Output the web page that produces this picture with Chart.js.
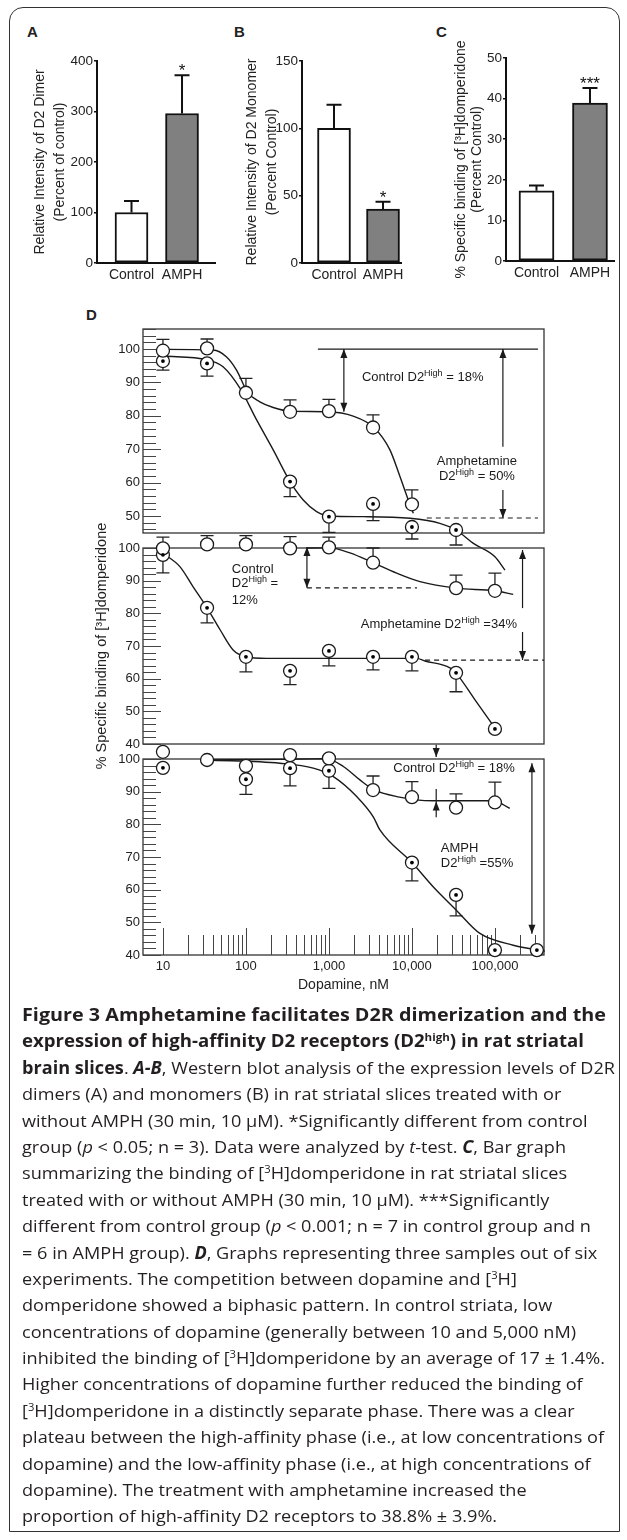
<!DOCTYPE html>
<html><head><meta charset="utf-8">
<script src="https://cdn.jsdelivr.net/npm/chart.js@4.4.1/dist/chart.umd.min.js"></script>
<style>
html,body{margin:0;padding:0;background:#fff;}
#page{position:relative;width:627px;height:1540px;overflow:hidden;background:#fff;}
#frame{position:absolute;left:9px;top:7px;width:611px;height:1525px;border:1.5px solid #333;border-radius:14px 14px 0 0;box-sizing:border-box;}
canvas{position:absolute;}
.plabel{position:absolute;font:bold 15px "Liberation Sans",Arial,sans-serif;color:#222;line-height:18px;}
#caption{position:absolute;left:22px;top:1002px;font-family:"Open Sans",sans-serif;font-size:17px;line-height:26.4px;color:#231f20;}
#caption div{white-space:nowrap;transform-origin:0 50%;height:26.4px;}
#caption sup{font-size:0.62em;line-height:0;vertical-align:0.55em;}
</style>
</head><body>
<div id="page">
  <div id="frame"></div>
  <div class="plabel" style="left:27px;top:23px">A</div>
  <div class="plabel" style="left:234px;top:23px">B</div>
  <div class="plabel" style="left:436px;top:23px">C</div>
  <div class="plabel" style="left:86px;top:306px">D</div>
  <canvas id="cA" width="230" height="300" style="left:0;top:0"></canvas>
  <canvas id="cB" width="220" height="300" style="left:200px;top:0"></canvas>
  <canvas id="cC" width="217" height="300" style="left:410px;top:0"></canvas>
  <canvas id="d1" width="627" height="300" style="left:0;top:300px"></canvas>
  <canvas id="d2" width="627" height="300" style="left:0;top:500px"></canvas>
  <canvas id="d3" width="627" height="290" style="left:0;top:720px"></canvas>
  <div id="caption"></div>
</div>
<script>
// ---------------- DATA ----------------
const barCats = ['Control', 'AMPH'];
const dimerVals = [100, 296];
const dimerErr = [23, 76];
const dimerMarks = ['', '*'];
const monomerVals = [100, 40];
const monomerErr = [17.5, 5.5];
const monomerMarks = ['', '*'];
const bindingVals = [17.3, 38.9];
const bindingErr = [1.3, 3.7];
const bindingMarks = ['', '***'];

const doses = [10, 34, 100, 340, 1000, 3400, 10000, 34000, 100000, 320000];

const p1Control    = [99.5, 100.2, 86.9, 81.2, 81.4, 76.5, 53.5, null, null, null];
const p1ControlErr = [3.4, 2.8, 4.3, 3.6, 3.5, 3.8, 4.3, null, null, null];
const p1Amph       = [96.4, 95.7, null, 60.3, 49.8, 53.6, 46.7, 45.8, 37.8, null];
const p1AmphErr    = [2.7, 3.8, null, 4.5, 4.7, 5.0, 3.6, 4.5, null, null];

const p2Control    = [99.9, 101.1, 101.1, 99.9, 100.2, 95.5, null, 87.7, 86.9, null];
const p2ControlErr = [3.4, 2.7, 2.7, 3.6, 3.1, 4.5, null, 4.0, 5.4, null];
const p2Amph       = [97.9, 81.7, 66.7, 62.4, 68.5, 66.7, 66.7, 61.8, 44.6, null];
const p2AmphErr    = [5.5, 4.6, 4.6, 4.2, 4.6, 4.0, 4.3, 5.8, null, null];

const p3Control    = [102.2, 99.7, 97.9, 101.2, 100.2, 90.5, 88.3, 85.1, 86.7, null];
const p3ControlErr = [null, null, null, null, null, 4.3, 4.8, 4.2, 6.2, null];
const p3Amph       = [97.3, 103.6, 93.8, 97.2, 96.4, null, 68.3, 58.4, 41.5, 41.5];
const p3AmphErr    = [null, null, 4.6, 5.4, 5.4, null, 5.6, 6.4, null, null];

// fitted curves
const p1CtrlCurveX = [10, 40, 58, 77, 105, 147, 213, 340, 960, 1960, 3480, 5430, 7170, 9030, 10400];
const p1CtrlCurveY = [99.9, 99.7, 97.7, 93.7, 87.0, 84.2, 82.5, 81.4, 81.2, 79.9, 76.5, 69.8, 61.8, 54.8, 50.8];
const p1AmphCurveX = [10, 34, 53, 85, 135, 213, 340, 490, 710, 1000, 2600, 9500, 21700, 34000, 55000, 100000, 132000];
const p1AmphCurveY = [97.9, 96.8, 94.7, 88.2, 78.7, 69.8, 60.3, 54.8, 51.3, 50.0, 49.8, 49.3, 47.8, 45.8, 41.8, 37.8, 33.8];

const p2CtrlCurveX = [540, 1000, 1790, 3400, 6540, 12500, 34000, 100000, 166000];
const p2CtrlCurveY = [100, 100.1, 98.5, 95.5, 92.3, 89.7, 87.7, 86.9, 85.8];
const p2AmphCurveX = [10, 16, 23, 34, 49, 70, 100, 177, 11400, 14400, 28700, 34000, 57500, 100000];
const p2AmphCurveY = [98.4, 94.3, 88.2, 81.7, 74.9, 68.8, 66.7, 66.2, 66.2, 65.4, 63.3, 61.7, 53.5, 44.9];

const p3CtrlCurveX = [34, 257, 937, 1490, 2360, 3420, 6540, 18000, 95500, 151000];
const p3CtrlCurveY = [99.7, 99.9, 100.1, 97.7, 93.6, 90.7, 88.5, 87.2, 87.2, 84.9];
const p3AmphCurveX = [34, 257, 647, 1130, 2160, 3420, 4110, 10000, 18000, 34000, 65900, 166000, 400000];
const p3AmphCurveY = [99.7, 98.7, 97.2, 94.6, 88.5, 82.3, 78.3, 68.3, 60.9, 53.8, 46.6, 43.0, 41.2];

const p1YTicks = [50, 60, 70, 80, 90, 100];
const p2YTicks = [40, 50, 60, 70, 80, 90, 100];
const p3YTicks = [40, 50, 60, 70, 80, 90, 100];
const xDecades = [10, 100, 1000, 10000, 100000];
const xDecadeLabels = ['10', '100', '1,000', '10,000', '100,000'];
const xMinorMult = [2, 3, 4, 5, 6, 7, 8, 9];

// annotations in data units (dose, %)
const p1Notes = [
  {type:'line', x1:736, x2:330000, y1:100, y2:100},
  {type:'arrow', x:1513, y1:100, y2:81.2, both:true},
  {type:'text', x:2500, y:91.6, align:'left', parts:[['Control D2'],['High',1],[' = 18%']]},
  {type:'arrow', x:124700, y1:70.7, y2:100},
  {type:'arrow', x:124700, y1:57.8, y2:49.4},
  {type:'text', x:60700, y:66.2, align:'center', parts:[['Amphetamine']]},
  {type:'text', x:60700, y:61.7, align:'center', parts:[['D2'],['High',1],[' = 50%']]},
  {type:'line', x1:15100, x2:330000, y1:49.4, y2:49.4, dash:true}
];
const p2Notes = [
  {type:'text', x:67.5, y:93.3, align:'left', parts:[['Control']]},
  {type:'text', x:67.5, y:89.1, align:'left', parts:[['D2'],['High',1],[' =']]},
  {type:'text', x:67.5, y:84.1, align:'left', parts:[['12%']]},
  {type:'arrow', x:543, y1:87.8, y2:100.3, both:true},
  {type:'line', x1:543, x2:11500, y1:87.8, y2:87.8, dash:true},
  {type:'text', x:21100, y:76.7, align:'center', parts:[['Amphetamine D2'],['High',1],[' =34%']]},
  {type:'arrow', x:215000, y1:81.6, y2:99.4},
  {type:'arrow', x:215000, y1:74.3, y2:65.7},
  {type:'line', x1:14400, x2:390000, y1:65.7, y2:65.7, dash:true}
];
const p3Notes = [
  {type:'arrow', x:19600, y1:104.4, y2:100.6},
  {type:'arrow', x:19600, y1:82.2, y2:87.0},
  {type:'line', x1:19600, x2:19600, y1:87.0, y2:90.8},
  {type:'text', x:5960, y:97.1, align:'left', parts:[['Control D2'],['High',1],[' = 18%']]},
  {type:'arrow', x:279000, y1:98.7, y2:46.5, both:true},
  {type:'text', x:22300, y:72.5, align:'left', parts:[['AMPH']]},
  {type:'text', x:22300, y:67.9, align:'left', parts:[['D2'],['High',1],[' =55%']]}
];

const captionLines = [
 '<b>Figure 3 Amphetamine facilitates D2R dimerization and the</b>',
 '<b>expression of high-affinity D2 receptors (D2<sup>high</sup>) in rat striatal</b>',
 '<b>brain slices</b>. <b><i>A-B</i></b>, Western blot analysis of the expression levels of D2R',
 'dimers (A) and monomers (B) in rat striatal slices treated with or',
 'without AMPH (30 min, 10 μM). *Significantly different from control',
 'group (<i>p</i> &lt; 0.05; n = 3). Data were analyzed by <i>t</i>-test. <b><i>C</i></b>, Bar graph',
 'summarizing the binding of [<sup>3</sup>H]domperidone in rat striatal slices',
 'treated with or without AMPH (30 min, 10 μM). ***Significantly',
 'different from control group (<i>p</i> &lt; 0.001; n = 7 in control group and n',
 '= 6 in AMPH group). <b><i>D</i></b>, Graphs representing three samples out of six',
 'experiments. The competition between dopamine and [<sup>3</sup>H]',
 'domperidone showed a biphasic pattern. In control striata, low',
 'concentrations of dopamine (generally between 10 and 5,000 nM)',
 'inhibited the binding of [<sup>3</sup>H]domperidone by an average of 17 ± 1.4%.',
 'Higher concentrations of dopamine further reduced the binding of',
 '[<sup>3</sup>H]domperidone in a distinctly separate phase. There was a clear',
 'plateau between the high-affinity phase (i.e., at low concentrations of',
 'dopamine) and the low-affinity phase (i.e., at high concentrations of',
 'dopamine). The treatment with amphetamine increased the',
 'proportion of high-affinity D2 receptors to 38.8% ± 3.9%.'
];

// ---------------- SETUP ----------------
const FONT = '"Liberation Sans", Arial, Helvetica, sans-serif';
Chart.defaults.font.family = FONT;
Chart.defaults.color = '#222';
Chart.defaults.animation = false;
Chart.defaults.plugins.legend.display = false;
Chart.defaults.plugins.tooltip.enabled = false;

const barExtras = {
  id: 'barExtras',
  afterDatasetsDraw(chart) {
    const ds = chart.data.datasets[0];
    const meta = chart.getDatasetMeta(0);
    const y = chart.scales.y, ctx = chart.ctx;
    ctx.save();
    ctx.strokeStyle = '#111'; ctx.fillStyle = '#111'; ctx.lineWidth = 2;
    meta.data.forEach((el, i) => {
      const v = ds.data[i].y, e = ds.errs[i];
      const y0 = y.getPixelForValue(v), y1 = y.getPixelForValue(v + e);
      ctx.beginPath();
      ctx.moveTo(el.x, y0); ctx.lineTo(el.x, y1);
      ctx.moveTo(el.x - 7.5, y1); ctx.lineTo(el.x + 7.5, y1);
      ctx.stroke();
      if (ds.marks[i]) {
        ctx.font = '17px ' + FONT; ctx.textAlign = 'center'; ctx.textBaseline = 'alphabetic';
        ctx.fillText(ds.marks[i], el.x, y1 + 1);
      }
    });
    ctx.restore();
  }
};

function barChart(id, s) {
  return new Chart(document.getElementById(id), {
    type: 'bar',
    data: { datasets: [{
      data: barCats.map((c, i) => ({x: i + 1, y: s.vals[i]})),
      errs: s.errs, marks: s.marks,
      backgroundColor: ['#ffffff', '#808080'],
      borderColor: '#111', borderWidth: 2, borderSkipped: false,
      barThickness: s.barW
    }]},
    options: {
      responsive: false, animation: false,
      layout: { padding: { left: 0, right: s.padR, top: s.padT, bottom: s.padB } },
      scales: {
        x: {
          type: 'linear', min: s.xMin, max: s.xMax, offset: false,
          afterBuildTicks: sc => { sc.ticks = barCats.map((c, i) => ({value: i + 1})); },
          afterFit: sc => { sc.height = 30; },
          grid: { display: false, drawTicks: false, offset: false },
          border: { display: true, color: '#111', width: 2 },
          ticks: { callback: v => barCats[Math.round(v) - 1] || '', autoSkip: false, maxRotation: 0,
                   font: { size: 14 }, color: '#222', padding: 4 }
        },
        y: {
          min: 0, max: s.yMax,
          afterBuildTicks: sc => { sc.ticks = s.yTicks.map(v => ({value: v})); },
          afterFit: sc => { sc.width = s.axisW; },
          grid: { drawOnChartArea: false, drawTicks: true, tickLength: 3, color: '#111', lineWidth: 1.5 },
          border: { display: true, color: '#111', width: 2 },
          ticks: { font: { size: 13.5 }, color: '#222', padding: 1 },
          title: { display: true, text: s.title, color: '#222',
                   font: { size: 14, lineHeight: s.titleLH }, padding: { top: s.titlePad, bottom: 0 } }
        }
      }
    },
    plugins: [barExtras]
  });
}

barChart('cA', { vals: dimerVals, errs: dimerErr, marks: dimerMarks, barW: 33,
  yMax: 400, yTicks: [0, 100, 200, 300, 400], axisW: 97, padR: 15, padT: 61, padB: 7,
  xMin: 0.317, xMax: 2.653, titlePad: 30, titleLH: 1.43,
  title: ['Relative Intensity of D2 Dimer', '(Percent of control)'] });
barChart('cB', { vals: monomerVals, errs: monomerErr, marks: monomerMarks, barW: 33,
  yMax: 150, yTicks: [0, 50, 100, 150], axisW: 102, padR: 19, padT: 61, padB: 7,
  xMin: 0.347, xMax: 2.367, titlePad: 42, titleLH: 1.43,
  title: ['Relative Intensity of D2 Monomer', '(Percent Control)'] });
barChart('cC', { vals: bindingVals, errs: bindingErr, marks: bindingMarks, barW: 35,
  yMax: 50, yTicks: [0, 10, 20, 30, 40, 50], axisW: 96, padR: 13, padT: 58, padB: 9,
  xMin: 0.43, xMax: 2.449, titlePad: 43, titleLH: 1.15,
  title: ['% Specific binding of [³H]domperidone', '(Percent Control)'] });

// ------------- panel D -------------
function framePlugin(xTicks) {
  return {
    id: 'dFrame',
    beforeDatasetsDraw(chart) {
      const {ctx, chartArea: a, scales: {x, y}} = chart;
      ctx.save();
      ctx.strokeStyle = '#333'; ctx.lineWidth = 1.3;
      ctx.strokeRect(a.left, a.top, a.right - a.left, a.bottom - a.top);
      ctx.lineWidth = 1; ctx.strokeStyle = '#444';
      ctx.beginPath();
      for (let v = Math.ceil(y.min / 2) * 2; v <= y.max + 0.001; v += 2) {
        const py = Math.round(y.getPixelForValue(v)) + 0.5;
        const len = (v % 10 === 0) ? 18 : 13;
        ctx.moveTo(a.left, py); ctx.lineTo(a.left + len, py);
      }
      if (xTicks) {
        xTicks.forEach(t => {
          const px = Math.round(x.getPixelForValue(t.v)) + 0.5;
          ctx.moveTo(px, a.bottom); ctx.lineTo(px, a.bottom - (t.major ? 27 : 20));
        });
      }
      ctx.stroke();
      ctx.restore();
    }
  };
}

function arrowHead(ctx, x, y, dir) { // dir +1 points down, -1 points up
  ctx.beginPath();
  ctx.moveTo(x, y);
  ctx.lineTo(x - 3.5, y - dir * 9);
  ctx.lineTo(x + 3.5, y - dir * 9);
  ctx.closePath(); ctx.fill();
}
function richText(ctx, x, y, parts, align) {
  const base = '13px ' + FONT, sup = '9px ' + FONT;
  let w = 0;
  parts.forEach(p => { ctx.font = p[1] ? sup : base; w += ctx.measureText(p[0]).width; });
  let cx = align === 'center' ? x - w / 2 : x;
  ctx.textAlign = 'left'; ctx.textBaseline = 'middle';
  parts.forEach(p => {
    ctx.font = p[1] ? sup : base;
    ctx.fillText(p[0], cx, p[1] ? y - 4 : y);
    cx += ctx.measureText(p[0]).width;
  });
}
function notesPlugin(notes) {
  return {
    id: 'dNotes',
    afterDatasetsDraw(chart) {
      const {ctx, scales: {x, y}} = chart;
      ctx.save();
      ctx.strokeStyle = '#1a1a1a'; ctx.fillStyle = '#1a1a1a'; ctx.lineWidth = 1.2;
      notes.forEach(n => {
        if (n.type === 'line') {
          ctx.setLineDash(n.dash ? [5, 4] : []);
          ctx.beginPath();
          ctx.moveTo(x.getPixelForValue(n.x1), y.getPixelForValue(n.y1));
          ctx.lineTo(x.getPixelForValue(n.x2), y.getPixelForValue(n.y2));
          ctx.stroke();
          ctx.setLineDash([]);
        } else if (n.type === 'arrow') {
          const px = x.getPixelForValue(n.x), p1 = y.getPixelForValue(n.y1), p2 = y.getPixelForValue(n.y2);
          const d = p2 > p1 ? 1 : -1;
          ctx.beginPath(); ctx.moveTo(px, p1); ctx.lineTo(px, p2); ctx.stroke();
          arrowHead(ctx, px, p2, d);
          if (n.both) arrowHead(ctx, px, p1, -d);
        } else if (n.type === 'text') {
          richText(ctx, x.getPixelForValue(n.x), y.getPixelForValue(n.y), n.parts, n.align);
        }
      });
      ctx.restore();
    }
  };
}

function curveDs(xs, ys) {
  return { type: 'line', data: xs.map((v, i) => ({x: v, y: ys[i]})),
    borderColor: '#1a1a1a', borderWidth: 1.4, pointRadius: 0, fill: false,
    cubicInterpolationMode: 'monotone', clip: false, order: 3 };
}
function pointDs(vals, errs, dir, dotted) {
  const pts = [], e = [];
  doses.forEach((d, i) => { if (vals[i] != null) { pts.push({x: d, y: vals[i]}); e.push(errs[i]); } });
  const list = [{ type: 'line', data: pts, showLine: false, errs: e, errDir: dir,
    pointRadius: 6.5, pointBorderWidth: 1.3, pointBackgroundColor: '#fff', pointBorderColor: '#1a1a1a',
    clip: false, order: 1 }];
  if (dotted) list.push({ type: 'line', data: pts, showLine: false,
    pointRadius: 1.9, pointBorderWidth: 0, pointBackgroundColor: '#000', clip: false, order: 0 });
  return list;
}
const errPlugin = {
  id: 'dErr',
  beforeDatasetsDraw(chart) {
    const {ctx, scales: {y}} = chart;
    ctx.save(); ctx.strokeStyle = '#222'; ctx.lineWidth = 1.3;
    chart.data.datasets.forEach((ds, k) => {
      if (!ds.errs) return;
      const meta = chart.getDatasetMeta(k);
      ds.errs.forEach((err, j) => {
        if (err == null) return;
        const el = meta.data[j];
        const y1 = y.getPixelForValue(ds.data[j].y + ds.errDir * err);
        ctx.beginPath();
        ctx.moveTo(el.x, el.y); ctx.lineTo(el.x, y1);
        ctx.moveTo(el.x - 6.5, y1); ctx.lineTo(el.x + 6.5, y1);
        ctx.stroke();
      });
    });
    ctx.restore();
  }
};

function dChart(id, s) {
  const datasets = [
    curveDs(s.cx, s.cy), curveDs(s.ax, s.ay),
    ...pointDs(s.ctrl, s.ctrlErr, 1, false),
    ...pointDs(s.amph, s.amphErr, -1, true)
  ];
  const xScale = {
    type: 'logarithmic', min: 5.75, max: 390000, display: !!s.showX,
    grid: { display: false, drawTicks: false }, border: { display: false }
  };
  let xt = null;
  if (s.showX) {
    xt = [];
    xDecades.forEach(d => { xt.push({v: d, major: true}); (d < 100000 ? xMinorMult : [2, 3]).forEach(m => xt.push({v: d * m, major: false})); });
    xScale.afterBuildTicks = sc => { sc.ticks = xt.map(t => ({value: t.v})); };
    xScale.afterFit = sc => { sc.height = 50; };
    xScale.ticks = { autoSkip: false, maxRotation: 0, font: { size: 13 }, color: '#222', padding: 4,
      callback: v => { const k = xDecades.indexOf(v); return k >= 0 ? xDecadeLabels[k] : ''; } };
    xScale.title = { display: true, text: 'Dopamine, nM', color: '#222', font: { size: 14 }, padding: { top: 0, bottom: 11.6 } };
  }
  return new Chart(document.getElementById(id), {
    type: 'line',
    data: { datasets },
    options: {
      responsive: false, animation: false,
      layout: { padding: { left: 0, right: 83, top: s.padT, bottom: s.padB } },
      scales: {
        x: xScale,
        y: {
          type: 'linear', min: s.yMin, max: s.yMax,
          afterBuildTicks: sc => { sc.ticks = s.yTicks.map(v => ({value: v})); },
          afterFit: sc => { sc.width = 143; },
          grid: { display: false, drawTicks: false }, border: { display: false },
          ticks: { font: { size: 13 }, color: '#222', padding: 3 },
          title: s.yTitle ? { display: true, text: s.yTitle, color: '#222', font: { size: 14.5 }, padding: { top: 93.3, bottom: 0 } } : { display: false }
        }
      }
    },
    plugins: [framePlugin(xt), errPlugin, notesPlugin(s.notes)]
  });
}

dChart('d1', { cx: p1CtrlCurveX, cy: p1CtrlCurveY, ax: p1AmphCurveX, ay: p1AmphCurveY,
  ctrl: p1Control, ctrlErr: p1ControlErr, amph: p1Amph, amphErr: p1AmphErr,
  yMin: 44.9, yMax: 106, yTicks: p1YTicks, padT: 29, padB: 67, notes: p1Notes });
dChart('d2', { cx: p2CtrlCurveX, cy: p2CtrlCurveY, ax: p2AmphCurveX, ay: p2AmphCurveY,
  ctrl: p2Control, ctrlErr: p2ControlErr, amph: p2Amph, amphErr: p2AmphErr,
  yMin: 40, yMax: 100, yTicks: p2YTicks, padT: 48, padB: 56, notes: p2Notes,
  yTitle: '% Specific binding of [³H]domperidone' });
dChart('d3', { cx: p3CtrlCurveX, cy: p3CtrlCurveY, ax: p3AmphCurveX, ay: p3AmphCurveY,
  ctrl: p3Control, ctrlErr: p3ControlErr, amph: p3Amph, amphErr: p3AmphErr,
  yMin: 40, yMax: 100, yTicks: p3YTicks, padT: 39, padB: 5, notes: p3Notes, showX: true });

// ------------- caption -------------
const cap = document.getElementById('caption');
captionLines.forEach(h => { const d = document.createElement('div'); const s = document.createElement('span'); s.innerHTML = h; d.appendChild(s); cap.appendChild(d); });
function fitCaption() {
  const rows = cap.children;
  rows.length && Array.from(rows).forEach(r => r.style.transform = '');
  const w0 = rows[0].firstChild.getBoundingClientRect().width;
  const w1 = rows[1].firstChild.getBoundingClientRect().width;
  const regW = rows[16].firstChild.getBoundingClientRect().width;
  if (!w0 || !w1 || !regW) return;
  const fr = 582 / regW;
  for (let i = 0; i < rows.length; i++) {
    const f = i === 0 ? 584 / w0 : (i === 1 ? 562 / w1 : fr);
    rows[i].style.transform = 'scaleX(' + f + ')';
  }
}
fitCaption();
if (document.fonts && document.fonts.ready) document.fonts.ready.then(fitCaption);
</script>
</body></html>
